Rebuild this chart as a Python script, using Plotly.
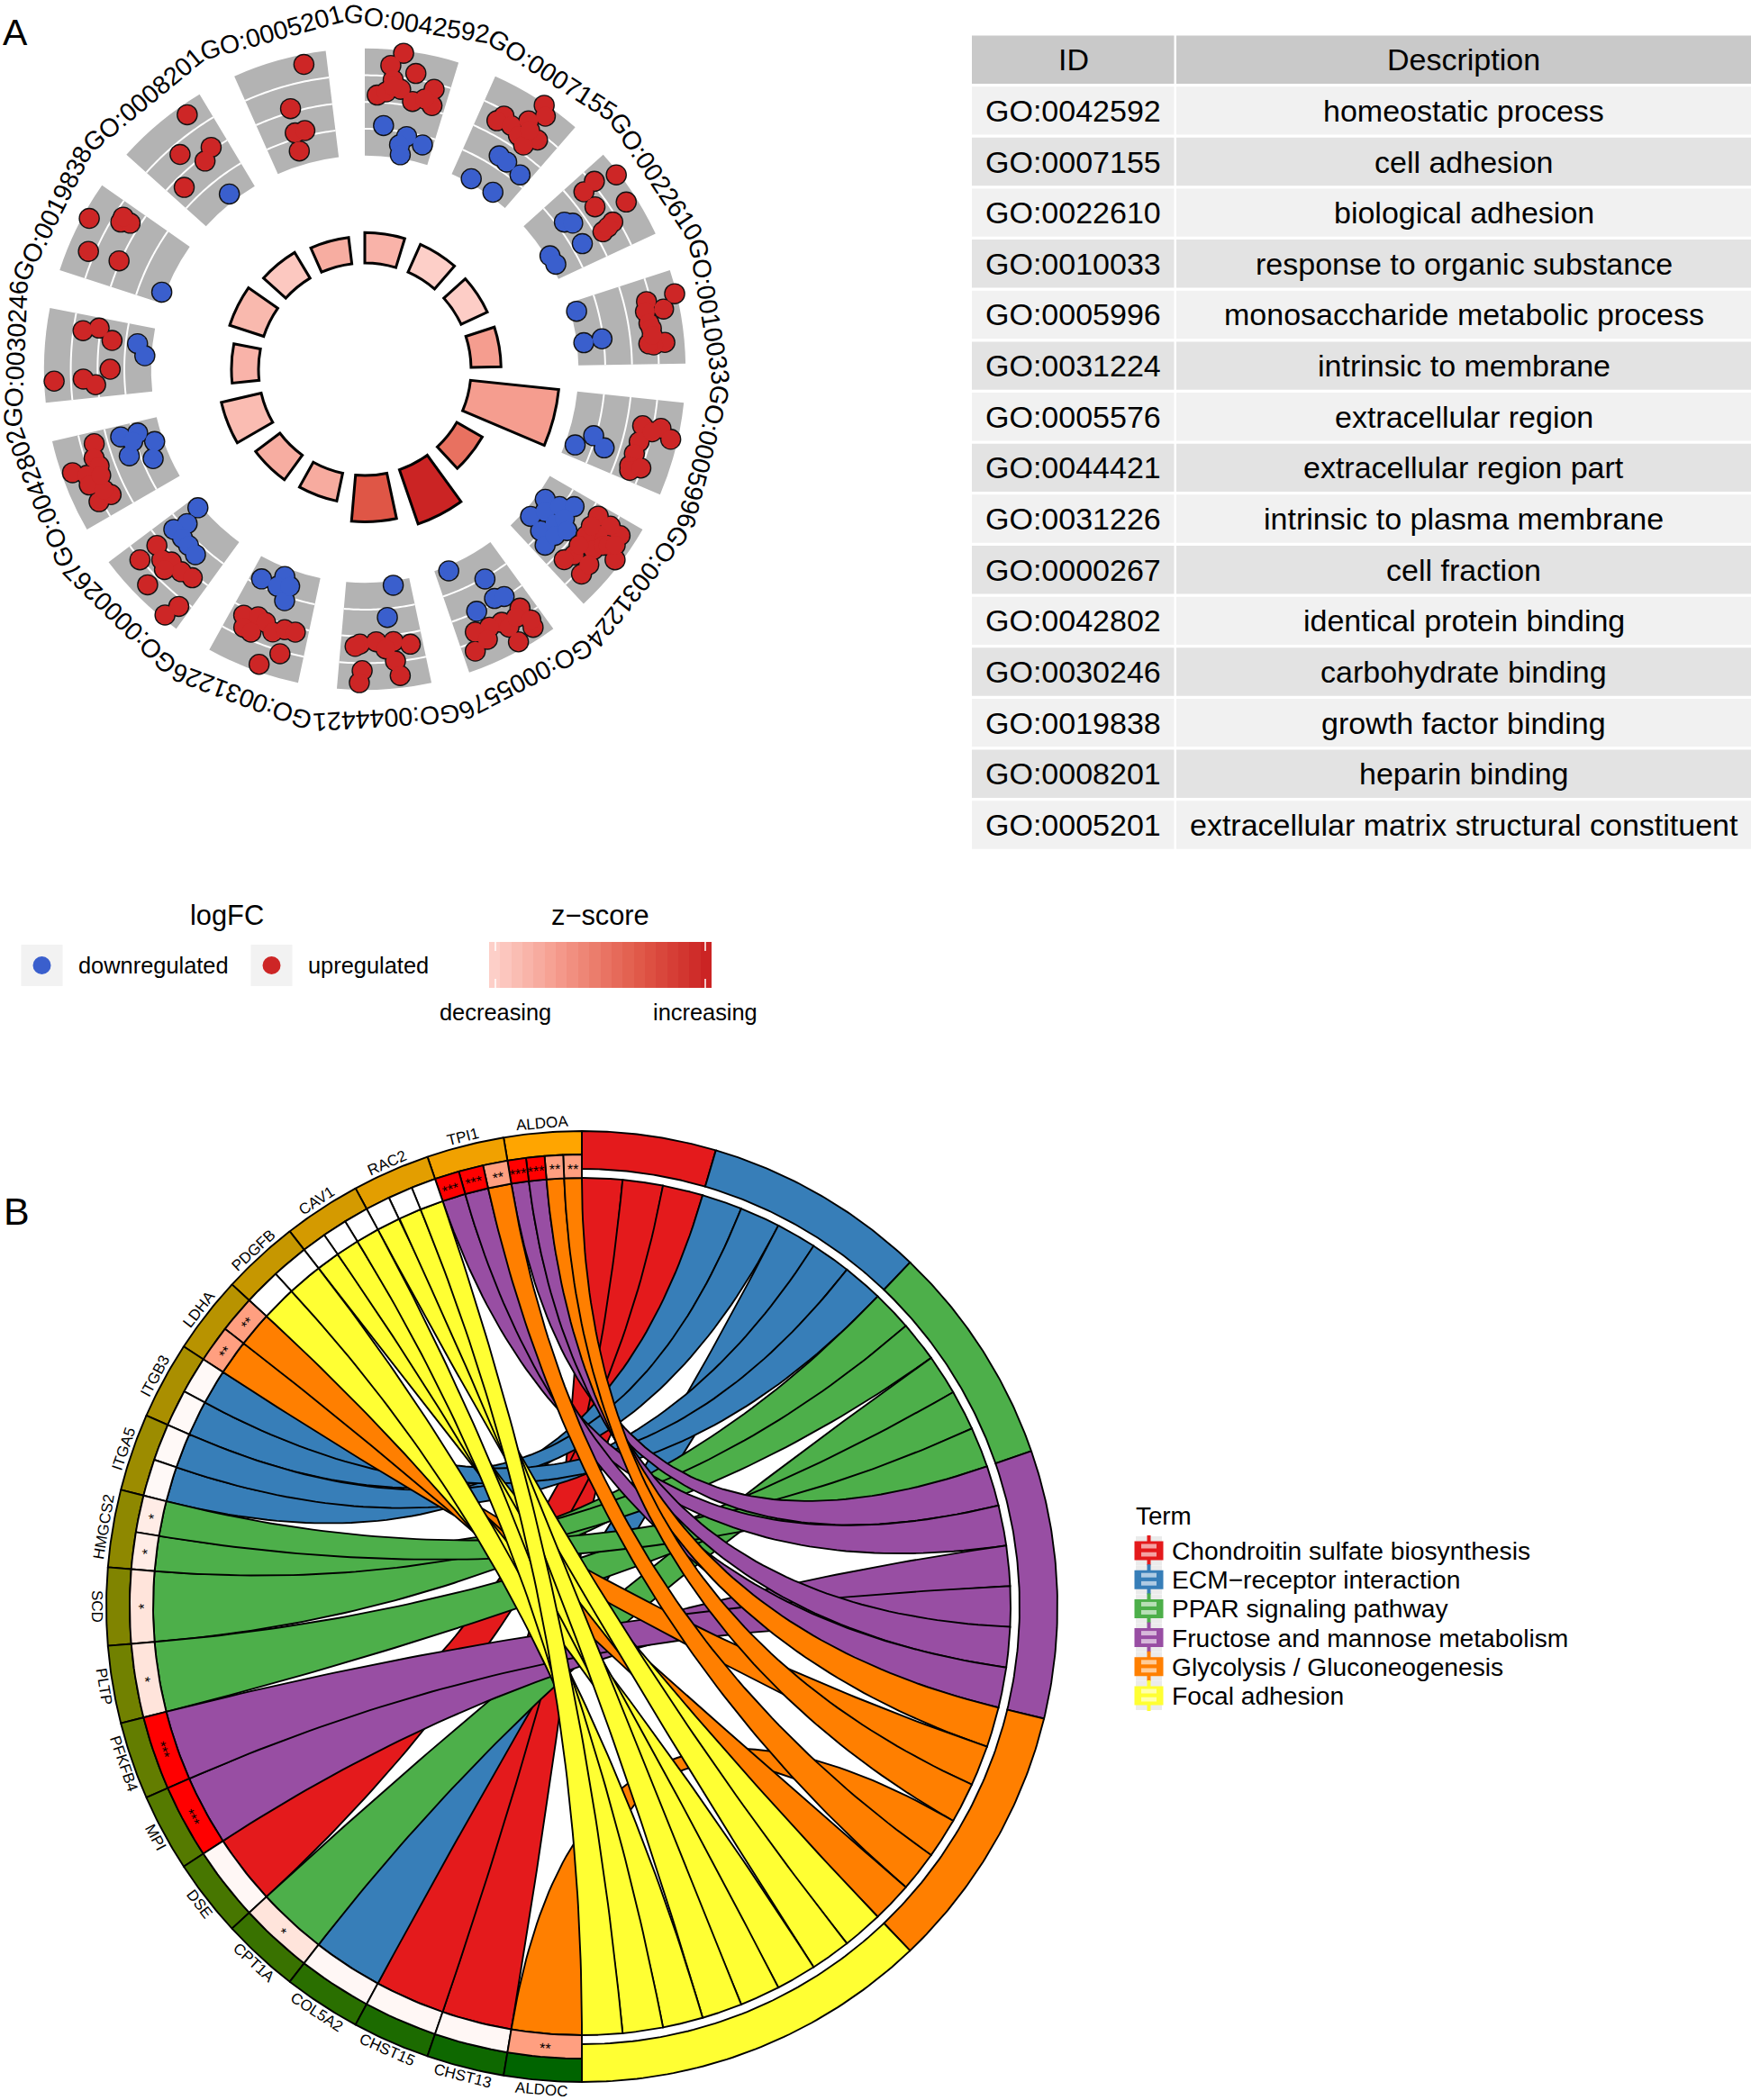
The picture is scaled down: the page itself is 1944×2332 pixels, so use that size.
import numpy as np
import plotly.graph_objects as go

W, H = 1944, 2332
FONT = "Liberation Sans"

# ---------- Panel A data ----------
go_ids = ["GO:0042592","GO:0007155","GO:0022610","GO:0010033","GO:0005996","GO:0031224","GO:0005576",
          "GO:0044421","GO:0031226","GO:0000267","GO:0042802","GO:0030246","GO:0019838","GO:0008201","GO:0005201"]
descriptions = ["homeostatic process","cell adhesion","biological adhesion","response to organic substance",
                "monosaccharide metabolic process","intrinsic to membrane","extracellular region",
                "extracellular region part","intrinsic to plasma membrane","cell fraction",
                "identical protein binding","carbohydrate binding","growth factor binding","heparin binding",
                "extracellular matrix structural constituent"]
neg_log_p = [2.1,2.1,2.0,2.07,6.13,2.03,3.97,3.2,1.97,2.1,2.83,1.87,2.47,2.07,1.83]
zscore = [-1.72,-3.0,-2.92,-0.68,-0.68,1.32,5.0,2.6,-1.32,-1.4,-2.12,-1.72,-1.96,-2.68,-1.4]

up_pos = [
 [7.0,4.9,9.8,5.6,7.3,2.6,4.4,10.1,13.9,14.3,12.5,5.6],
 [10.2,11.5,9.4,4.8,4.0,7.0,9.3,13.0,11.3,10.6],
 [4.3,2.7,3.0,6.8,9.4,11.3,12.0,11.7],
 [4.3,6.6,4.5,6.4,8.8,9.9,12.9,13.2,12.9,11.3],
 [5.5,5.3,6.9,8.8,11.4,14.0,14.9,13.7,6.3],
 [2.2,3.1,2.6,7.3,5.5,6.9,11.6,13.7,13.4,8.3,6.5,11.1,9.4,5.9,4.7,5.1],
 [3.0,2.9,6.6,7.6,10.2,13.2,14.6,11.6,6.8,4.6,2.5],
 [13.0,9.6,6.0,2.6,12.5,13.0,6.0,5.4,7.7,14.0],
 [14.2,11.3,13.1,9.4,7.3,5.1,2.8,11.4,4.6,7.7],
 [13.7,13.7,10.8,9.1,6.2,3.6,9.2,2.1,3.1,9.0],
 [14.6,10.5,11.8,10.0,9.1,7.2,3.5,3.7,5.2,8.1],
 [13.8,14.8,12.5,6.0,4.0,2.7,3.8],
 [10.7,13.1,13.9,5.1,5.8,14.2],
 [13.1,7.3,13.3,10.5,3.2],
 [12.7,8.1,7.6,9.9,7.3]]
up_lfc = [
 [1.91,1.41,1.23,0.88,0.56,0.27,0.41,0.18,0.79,0.18,0.36,0.65],
 [1.94,1.63,1.13,0.81,0.53,0.64,0.47,0.74,0.28,0.86],
 [1.89,1.1,0.55,0.54,1.61,0.79,0.29,0.54],
 [1.93,1.4,0.84,0.72,0.77,0.83,1.27,0.85,0.67,0.83],
 [0.61,1.3,1.74,0.62,0.57,0.55,0.61,0.97,1.0],
 [0.32,1.4,0.9,1.77,0.72,0.36,0.47,0.32,1.16,0.9,1.08,1.12,0.38,1.23,0.31,1.45],
 [0.66,1.53,1.71,0.77,0.72,0.67,1.33,1.1,1.06,0.88,1.25],
 [0.29,0.21,0.25,0.43,1.28,1.73,0.98,1.54,0.5,0.38],
 [0.26,0.09,0.67,0.18,0.42,0.2,0.18,0.72,1.11,1.73],
 [0.2,1.03,0.42,0.22,0.23,0.13,1.45,1.28,1.85,0.6],
 [0.5,1.6,0.66,0.58,1.13,1.18,1.11,0.59,0.76,0.65],
 [0.64,0.06,-0.48,-0.47,0.54,0.09,1.63],
 [1.75,0.66,0.34,1.24,0.05,0.68],
 [1.61,0.6,0.1,-0.18,-0.41],
 [1.63,0.14,-0.78,-0.79,-1.47]]
down_pos = [
 [4.4,10.2,14.4,8.8,9.4],
 [8.2,10.4,14.6,5.2,11.9],
 [5.6,6.9,12.0,10.5,13.2],
 [2.7,11.1,10.7],
 [13.8,10.2,12.2],
 [5.8,11.6,8.3,5.2,3.3,12.6,9.1,6.8,14.3,11.2,8.6],
 [13.4,6.2,6.5,4.5,11.2],
 [4.5,6.8],
 [14.2,9.1,9.9,7.1,7.1],
 [14.3,13.0,14.0,11.2,9.0,6.4],
 [14.5,14.3,9.8,11.0,7.1,12.7],
 [12.4,9.5],
 [2.8],
 [10.3],
 []]
down_lfc = [
 [-0.85,-1.15,-1.33,-1.5,-1.86],
 [-0.56,-0.6,-0.69,-1.83,-1.82],
 [-0.72,-0.49,-0.6,-1.87,-1.84],
 [-1.78,-1.74,-1.05],
 [-1.63,-1.08,-0.57],
 [-1.67,-1.7,-1.4,-1.08,-0.63,-1.06,-0.83,-0.67,-0.57,-0.55,-0.32],
 [-1.82,-0.95,-0.14,-0.02,-0.02],
 [-1.84,-0.67],
 [-1.25,-1.68,-1.24,-0.83,-1.4],
 [-1.88,-1.19,-0.67,-0.7,-0.67,-0.6],
 [-0.52,-1.17,-0.61,-1.68,-1.4,-0.9],
 [-1.44,-1.75],
 [-1.87],
 [-1.71],
 []]
grid_lfc = [-1, 0, 1]

# ---------- Panel B data ----------
genes = ["ALDOA","TPI1","RAC2","CAV1","PDGFB","LDHA","ITGB3","ITGA5","HMGCS2","SCD","PLTP","PFKFB4","MPI",
         "DSE","CPT1A","COL5A2","CHST15","CHST13","ALDOC"]
gene_cells = [4,3,3,3,2,2,2,2,2,1,1,1,1,1,1,1,1,1,1]
cell_stars = ["**","**","***","***", "**","***","***", "","","", "","","", "","", "**","**", "","", "","",
              "*","*", "*", "*", "***", "***", "", "*", "", "", "", "**"]
cell_level = [.5,.5,1,1, .5,1,1, 0,0,0, 0,0,0, 0,0, .5,.5, .03,.03, .03,.03, .1,.1, .14, .14, 1, 1, .04, .14, .04, .04, .04, .5]
terms = ["Chondroitin sulfate biosynthesis","ECM\u2212receptor interaction","PPAR signaling pathway",
         "Fructose and mannose metabolism","Glycolysis / Gluconeogenesis","Focal adhesion"]
term_colors = ["#E41A1C","#377EB8","#4DAF4A","#984EA3","#FF7F00","#FFFF33"]
term_genes = [
 ["CHST13","CHST15","DSE"],
 ["ITGA5","ITGB3","COL5A2","ITGA5","ITGB3"],
 ["SCD","HMGCS2","CPT1A","PLTP","HMGCS2"],
 ["ALDOA","TPI1","MPI","PFKFB4","ALDOA","TPI1"],
 ["ALDOA","LDHA","ALDOA","ALDOC","TPI1","LDHA"],
 ["CAV1","RAC2","PDGFB","CAV1","RAC2","PDGFB","CAV1","RAC2"]]
# order of each gene's cells, top to bottom, by term index
gene_cell_terms = {"ALDOA":[4,4,3,3],"TPI1":[4,3,3],"RAC2":[5,5,5],"CAV1":[5,5,5],"PDGFB":[5,5],"LDHA":[4,4],
 "ITGB3":[1,1],"ITGA5":[1,1],"HMGCS2":[2,2],"SCD":[2],"PLTP":[2],"PFKFB4":[3],"MPI":[3],"DSE":[0],"CPT1A":[2],
 "COL5A2":[1],"CHST15":[0],"CHST13":[0],"ALDOC":[4]}

# ---------- helpers ----------
def px(x): return x / W
def py(y): return 1 - y / H

fig = go.Figure()
shapes, annos = [], []

def text(x, y, s, size, angle=0, color="#000000", xanchor="center", ref="paper"):
    annos.append(dict(x=px(x) if ref == "paper" else x, y=py(y) if ref == "paper" else y,
                      xref="paper" if ref == "paper" else "x", yref="paper" if ref == "paper" else "y",
                      text=s, showarrow=False, textangle=angle, xanchor=xanchor, yanchor="middle",
                      font=dict(family=FONT, size=size, color=color)))

def rect(x0, y0, x1, y1, fill, line=None, w=0):
    shapes.append(dict(type="rect", xref="paper", yref="paper", x0=px(x0), x1=px(x1), y0=py(y0), y1=py(y1),
                       fillcolor=fill, line=dict(color=line or fill, width=w), layer="below"))

# ---------- Panel A: polar ----------
CX, CY, DR = 405, 410, 400
dom = dict(x=[px(CX - DR), px(CX + DR)], y=[py(CY + DR), py(CY - DR)])
STEP, SPAN = 24, 17
starts = [i * STEP for i in range(15)]
centres = [s + SPAN / 2 for s in starts]

fig.add_trace(go.Barpolar(theta=centres, r=[4] * 15, base=[-2] * 15, width=[SPAN] * 15,
                          marker=dict(color="#B3B3B3", line=dict(width=0)), subplot="polar", hoverinfo="skip"))
for s in starts:
    th = np.linspace(s, s + SPAN, 30)
    for g in grid_lfc:
        fig.add_trace(go.Scatterpolar(theta=th, r=[g] * 30, mode="lines", line=dict(color="white", width=2),
                                      subplot="polar", hoverinfo="skip"))
def collect(pos, vals):
    tt, rr = [], []
    for s, p, v in zip(starts, pos, vals):
        tt += [s + a for a in p]
        rr += list(v)
    return tt, rr
for pos, vals, col in [(down_pos, down_lfc, "#3A5FCD"), (up_pos, up_lfc, "#CD2626")]:
    tt, rr = collect(pos, vals)
    fig.add_trace(go.Scatterpolar(theta=tt, r=rr, mode="markers", subplot="polar", hoverinfo="skip",
                                  marker=dict(size=23.5, color="#111111", line=dict(width=0))))
    fig.add_trace(go.Scatterpolar(theta=tt, r=rr, mode="markers", subplot="polar", hoverinfo="skip",
                                  marker=dict(size=20.8, color=col, line=dict(width=0))))
zscale = [[0, "rgb(253,207,200)"], [.29, "rgb(245,157,143)"], [.54, "rgb(232,113,96)"],
          [.7, "rgb(223,86,70)"], [1, "rgb(203,36,36)"]]
fig.add_trace(go.Barpolar(theta=centres, r=neg_log_p, width=[SPAN] * 15, subplot="polar2", hoverinfo="skip",
                          marker=dict(color=zscore, colorscale=zscale, cmin=-3, cmax=5, showscale=False,
                                      line=dict(color="black", width=3))))

for i, g in enumerate(go_ids):
    a = np.radians(centres[i])
    text(CX + 388 * np.sin(a), CY - 388 * np.cos(a), g, 28.5, angle=centres[i])

# ---------- Table ----------
TX0, TX1, TX2 = 1079, 1304, 1944
ROW, ROWH = 56.65, 53.4
TY = 39.5
rect(TX0, TY, TX1 - 0.5, TY + ROWH, "#C9C9C9")
rect(TX1 + 2, TY, TX2, TY + ROWH, "#C9C9C9")
text((TX0 + TX1) / 2, TY + ROWH / 2, "ID", 34)
text((TX1 + 2 + TX2) / 2, TY + ROWH / 2, "Description", 34)
for i, (g, d) in enumerate(zip(go_ids, descriptions)):
    y0 = TY + ROW * (i + 1)
    col = "#F1F1F1" if i % 2 == 0 else "#E3E3E3"
    rect(TX0, y0, TX1 - 0.5, y0 + ROWH, col)
    rect(TX1 + 2, y0, TX2, y0 + ROWH, col)
    text((TX0 + TX1) / 2, y0 + ROWH / 2, g, 34)
    text((TX1 + 2 + TX2) / 2, y0 + ROWH / 2, d, 34)

# ---------- Panel A legend ----------
text(252, 1017, "logFC", 30.8)
text(666, 1017, "z\u2212score", 30.8)
for kx, col, lab, tx in [(46.5, "#3A5FCD", "downregulated", 85), (301.5, "#CD2626", "upregulated", 340)]:
    rect(kx - 23, 1049, kx + 23, 1095, "#F2F2F2")
    shapes.append(dict(type="circle", xref="paper", yref="paper", x0=px(kx - 10), x1=px(kx + 10),
                       y0=py(1082), y1=py(1062), fillcolor=col, line=dict(width=0), layer="above"))
    text(tx, 1072, lab, 25.4, xanchor="left")
text(550, 1124, "decreasing", 25.4)
text(783, 1124, "increasing", 25.4)
steps = list(range(20))
fig.add_trace(go.Heatmap(z=[steps], x=steps, y=[0], colorscale=zscale, showscale=False,
                         xaxis="x2", yaxis="y2", hoverinfo="skip"))
for tx in (550, 783):
    for a, b in ((1046, 1056), (1087, 1097)):
        shapes.append(dict(type="line", xref="paper", yref="paper", x0=px(tx), x1=px(tx), y0=py(a), y1=py(b),
                           line=dict(color="white", width=1.5), layer="above"))

# ---------- Panel B: chord ----------
BX, BY, BR = 646, 1784, 528
GAP_HALF = 548
R_OUT, R_GENE, R_TERM, R_RIB = 1.0, 502 / BR, 486 / BR, 476 / BR

def pol(theta, r):
    a = np.radians(theta)
    return r * np.sin(a), r * np.cos(a)

def arc(t0, t1, r, n=40):
    return pol(np.linspace(t0, t1, n), r)

def bez(t0, r0, t1, r1, n=80):
    x0, y0 = pol(t0, r0); x1, y1 = pol(t1, r1)
    u = np.linspace(0, 1, n)
    return (1 - u) ** 2 * x0 + u ** 2 * x1, (1 - u) ** 2 * y0 + u ** 2 * y1

def poly(xs, ys, fill, lw=1.9):
    fig.add_trace(go.Scatter(x=np.concatenate(xs), y=np.concatenate(ys), mode="lines", fill="toself", fillcolor=fill,
                             line=dict(color="black", width=lw), xaxis="x", yaxis="y", hoverinfo="skip",
                             showlegend=False))

gw = 180 / len(genes)
cell_span = {}          # (gene, term) -> list of left-side cell spans, top to bottom
cell_list = []
for i, g in enumerate(genes):
    cw = gw / gene_cells[i]
    for j, t in enumerate(gene_cell_terms[g]):
        a = -(i * gw + j * cw); b = a - cw
        cell_span.setdefault((g, t), []).append((a, b))
        cell_list.append((a, b))

n_seg = sum(len(t) for t in term_genes)
sw = 180 / n_seg
k = 0
term_edges = [0]
for ti, tg in enumerate(term_genes):
    used = {}
    for g in tg:
        spans = cell_span[(g, ti)]
        n = used.get(g, 0); used[g] = n + 1
        a, b = spans[len(spans) - 1 - n]
        c, d = k * sw, (k + 1) * sw
        x1, y1 = bez(a, R_RIB, c, R_RIB)
        x2, y2 = arc(c, d, R_RIB)
        x3, y3 = bez(d, R_RIB, b, R_RIB)
        x4, y4 = arc(b, a, R_RIB)
        poly([x1, x2, x3, x4], [y1, y2, y3, y4], term_colors[ti])
        k += 1
    term_edges.append(k * sw)

for ti in range(len(terms)):
    a, b = term_edges[ti], term_edges[ti + 1]
    xo, yo = arc(a, b, R_OUT, 60); xi, yi = arc(b, a, R_TERM, 60)
    poly([xo, xi, xo[:1]], [yo, yi, yo[:1]], term_colors[ti])

def lerp(c0, c1, t):
    return tuple(int(round(p + (q - p) * t)) for p, q in zip(c0, c1))
for i, g in enumerate(genes):
    c = lerp((255, 165, 0), (0, 100, 0), i / (len(genes) - 1))
    a, b = -i * gw, -(i + 1) * gw
    xo, yo = arc(a, b, R_OUT, 20); xi, yi = arc(b, a, R_GENE, 20)
    poly([xo, xi, xo[:1]], [yo, yi, yo[:1]], "rgb(%d,%d,%d)" % c)
    mid = (a + b) / 2
    lx, ly = pol(mid, 538 / BR)
    ang = mid if abs(mid) <= 90.01 and i != 9 else mid + 180
    text(lx, ly, g, 17, angle=ang, ref="data")

def level_col(v):
    if v <= .5:
        return lerp((255, 255, 255), (255, 159, 128), v / .5)
    return lerp((255, 159, 128), (255, 0, 0), (v - .5) / .5)

for (a, b), s, v in zip(cell_list, cell_stars, cell_level):
    xo, yo = arc(a, b, R_GENE, 10); xi, yi = arc(b, a, R_RIB, 10)
    poly([xo, xi, xo[:1]], [yo, yi, yo[:1]], "rgb(%d,%d,%d)" % level_col(v))
    if s:
        mid = (a + b) / 2
        top = abs(mid) <= 90
        rr = (489 - 3 if top else 489 + 3) / BR
        lx, ly = pol(mid, rr)
        text(lx, ly, s, 16, angle=mid if top else mid + 180, ref="data")

# ---------- Panel B legend ----------
text(1259, 1683, "Term", 27.8, xanchor="left")
def pale(hexcol):
    r, g, b = int(hexcol[1:3], 16), int(hexcol[3:5], 16), int(hexcol[5:7], 16)
    return "rgb(%d,%d,%d)" % lerp((r, g, b), (255, 255, 255), 0.6)
for i, (t, col) in enumerate(zip(terms, term_colors)):
    c = 1722 + i * 32.2
    rect(1261, c - 16, 1290, c + 16, "#EBEBEB")
    shapes.append(dict(type="line", xref="paper", yref="paper", x0=px(1275.5), x1=px(1275.5), y0=py(c - 17), y1=py(c + 17),
                       line=dict(color=col, width=4), layer="below"))
    shapes.append(dict(type="rect", xref="paper", yref="paper", x0=px(1259.5), x1=px(1291.5), y0=py(c - 10.5), y1=py(c + 10.5),
                       fillcolor=col, line=dict(width=0), layer="below"))
    for dy in (-7.5, 1.5):
        shapes.append(dict(type="rect", xref="paper", yref="paper", x0=px(1267), x1=px(1284), y0=py(c + dy), y1=py(c + dy + 5),
                           fillcolor=pale(col), line=dict(width=0), layer="below"))
    shapes.append(dict(type="rect", xref="paper", yref="paper", x0=px(1267), x1=px(1284), y0=py(c - 1.4), y1=py(c + 1.4),
                       fillcolor=col, line=dict(width=0), layer="below"))
    text(1298.5, c, t, 28.2, xanchor="left")

text(17, 36, "A", 41)
text(18, 1345, "B", 43)

fig.update_layout(
    width=W, height=H, autosize=False, margin=dict(l=0, r=0, t=0, b=0), showlegend=False,
    paper_bgcolor="white", plot_bgcolor="rgba(0,0,0,0)", shapes=shapes, annotations=annos,
    polar=dict(domain=dom, bgcolor="rgba(0,0,0,0)",
               radialaxis=dict(range=[-9.98, 3.475], visible=False),
               angularaxis=dict(visible=False, rotation=90, direction="clockwise", thetaunit="degrees")),
    polar2=dict(domain=dom, bgcolor="rgba(0,0,0,0)",
                radialaxis=dict(range=[-7.343, 17.55], visible=False),
                angularaxis=dict(visible=False, rotation=90, direction="clockwise", thetaunit="degrees")),
    xaxis=dict(domain=[px(BX - GAP_HALF), px(BX + GAP_HALF)], range=[-GAP_HALF / BR, GAP_HALF / BR], visible=False),
    yaxis=dict(domain=[py(BY + GAP_HALF), py(BY - GAP_HALF)], range=[-GAP_HALF / BR, GAP_HALF / BR], visible=False),
    xaxis2=dict(domain=[px(543), px(790)], range=[-0.5, 19.5], visible=False, anchor="y2"),
    yaxis2=dict(domain=[py(1097), py(1046)], range=[-0.5, 0.5], visible=False, anchor="x2"),
)
fig.write_html("out.html", config=dict(displayModeBar=False),
               post_script="document.body.style.margin='0';document.documentElement.style.margin='0';")
